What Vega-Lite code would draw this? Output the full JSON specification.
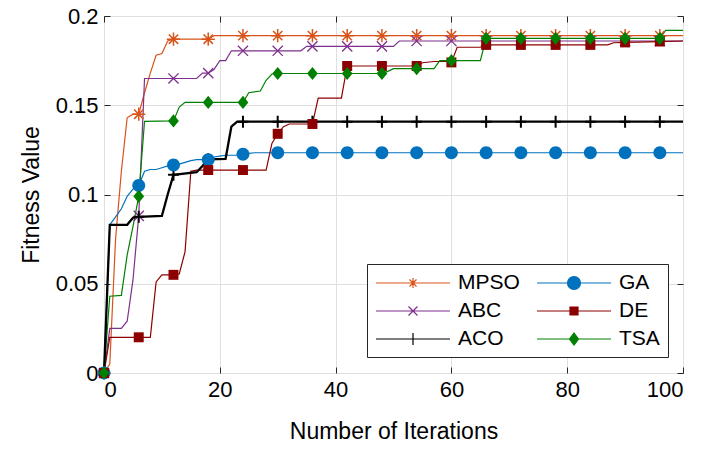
{
  "$schema": "https://vega.github.io/schema/vega-lite/v6.json",
  "width": 579,
  "height": 357,
  "autosize": {"type": "none"},
  "padding": {"left": 104, "top": 16, "right": 35, "bottom": 77},
  "background": "white",
  "config": {
    "font": "Liberation Sans",
    "view": {"stroke": "#262626", "strokeWidth": 1}
  },
  "data": {"values": [
    {"algo":"MPSO","iter":0,"value":0},{"algo":"MPSO","iter":1,"value":0.005},{"algo":"MPSO","iter":2,"value":0.075},{"algo":"MPSO","iter":3,"value":0.113},{"algo":"MPSO","iter":4,"value":0.143},{"algo":"MPSO","iter":5,"value":0.145},{"algo":"MPSO","iter":6,"value":0.145},{"algo":"MPSO","iter":7,"value":0.157},{"algo":"MPSO","iter":8,"value":0.168},{"algo":"MPSO","iter":9,"value":0.178},{"algo":"MPSO","iter":10,"value":0.179},{"algo":"MPSO","iter":11,"value":0.186},{"algo":"MPSO","iter":12,"value":0.187},{"algo":"MPSO","iter":18,"value":0.187},{"algo":"MPSO","iter":19,"value":0.189},{"algo":"MPSO","iter":24,"value":0.189},{"algo":"MPSO","iter":30,"value":0.189},{"algo":"MPSO","iter":36,"value":0.189},{"algo":"MPSO","iter":42,"value":0.189},{"algo":"MPSO","iter":48,"value":0.189},{"algo":"MPSO","iter":54,"value":0.189},{"algo":"MPSO","iter":60,"value":0.189},{"algo":"MPSO","iter":66,"value":0.189},{"algo":"MPSO","iter":72,"value":0.189},{"algo":"MPSO","iter":78,"value":0.189},{"algo":"MPSO","iter":84,"value":0.189},{"algo":"MPSO","iter":90,"value":0.189},{"algo":"MPSO","iter":96,"value":0.189},{"algo":"MPSO","iter":100,"value":0.189},
    {"algo":"ABC","iter":0,"value":0},{"algo":"ABC","iter":1,"value":0.025},{"algo":"ABC","iter":3,"value":0.025},{"algo":"ABC","iter":4,"value":0.029},{"algo":"ABC","iter":5,"value":0.052},{"algo":"ABC","iter":6,"value":0.088},{"algo":"ABC","iter":7,"value":0.165},{"algo":"ABC","iter":12,"value":0.165},{"algo":"ABC","iter":16,"value":0.165},{"algo":"ABC","iter":17,"value":0.168},{"algo":"ABC","iter":18,"value":0.168},{"algo":"ABC","iter":19,"value":0.17},{"algo":"ABC","iter":20,"value":0.175},{"algo":"ABC","iter":21,"value":0.175},{"algo":"ABC","iter":22,"value":0.1805},{"algo":"ABC","iter":24,"value":0.1805},{"algo":"ABC","iter":30,"value":0.1805},{"algo":"ABC","iter":34,"value":0.1805},{"algo":"ABC","iter":35,"value":0.183},{"algo":"ABC","iter":36,"value":0.183},{"algo":"ABC","iter":42,"value":0.183},{"algo":"ABC","iter":48,"value":0.183},{"algo":"ABC","iter":50,"value":0.183},{"algo":"ABC","iter":51,"value":0.186},{"algo":"ABC","iter":54,"value":0.186},{"algo":"ABC","iter":60,"value":0.186},{"algo":"ABC","iter":66,"value":0.186},{"algo":"ABC","iter":72,"value":0.186},{"algo":"ABC","iter":78,"value":0.186},{"algo":"ABC","iter":84,"value":0.186},{"algo":"ABC","iter":90,"value":0.186},{"algo":"ABC","iter":96,"value":0.186},{"algo":"ABC","iter":100,"value":0.186},
    {"algo":"GA","iter":0,"value":0},{"algo":"GA","iter":1,"value":0.083},{"algo":"GA","iter":2,"value":0.0875},{"algo":"GA","iter":3,"value":0.092},{"algo":"GA","iter":4,"value":0.099},{"algo":"GA","iter":5,"value":0.103},{"algo":"GA","iter":6,"value":0.105},{"algo":"GA","iter":7,"value":0.113},{"algo":"GA","iter":8,"value":0.114},{"algo":"GA","iter":9,"value":0.114},{"algo":"GA","iter":10,"value":0.115},{"algo":"GA","iter":11,"value":0.116},{"algo":"GA","iter":12,"value":0.1165},{"algo":"GA","iter":13,"value":0.117},{"algo":"GA","iter":14,"value":0.118},{"algo":"GA","iter":15,"value":0.119},{"algo":"GA","iter":16,"value":0.1195},{"algo":"GA","iter":18,"value":0.1195},{"algo":"GA","iter":19,"value":0.121},{"algo":"GA","iter":20,"value":0.1215},{"algo":"GA","iter":21,"value":0.122},{"algo":"GA","iter":23,"value":0.122},{"algo":"GA","iter":24,"value":0.1225},{"algo":"GA","iter":25,"value":0.123},{"algo":"GA","iter":26,"value":0.1234},{"algo":"GA","iter":30,"value":0.1234},{"algo":"GA","iter":36,"value":0.1234},{"algo":"GA","iter":42,"value":0.1234},{"algo":"GA","iter":48,"value":0.1234},{"algo":"GA","iter":54,"value":0.1234},{"algo":"GA","iter":60,"value":0.1234},{"algo":"GA","iter":66,"value":0.1234},{"algo":"GA","iter":72,"value":0.1234},{"algo":"GA","iter":78,"value":0.1234},{"algo":"GA","iter":84,"value":0.1234},{"algo":"GA","iter":90,"value":0.1234},{"algo":"GA","iter":96,"value":0.1234},{"algo":"GA","iter":100,"value":0.1234},
    {"algo":"ACO","iter":0,"value":0},{"algo":"ACO","iter":1,"value":0.083},{"algo":"ACO","iter":4,"value":0.083},{"algo":"ACO","iter":5,"value":0.087},{"algo":"ACO","iter":6,"value":0.0875},{"algo":"ACO","iter":10,"value":0.088},{"algo":"ACO","iter":11,"value":0.1},{"algo":"ACO","iter":12,"value":0.111},{"algo":"ACO","iter":16,"value":0.1125},{"algo":"ACO","iter":17,"value":0.116},{"algo":"ACO","iter":18,"value":0.1197},{"algo":"ACO","iter":21,"value":0.12},{"algo":"ACO","iter":22,"value":0.138},{"algo":"ACO","iter":23,"value":0.1408},{"algo":"ACO","iter":24,"value":0.1408},{"algo":"ACO","iter":30,"value":0.1408},{"algo":"ACO","iter":36,"value":0.1408},{"algo":"ACO","iter":42,"value":0.1408},{"algo":"ACO","iter":48,"value":0.1408},{"algo":"ACO","iter":54,"value":0.1408},{"algo":"ACO","iter":60,"value":0.1408},{"algo":"ACO","iter":66,"value":0.1408},{"algo":"ACO","iter":72,"value":0.1408},{"algo":"ACO","iter":78,"value":0.1408},{"algo":"ACO","iter":84,"value":0.1408},{"algo":"ACO","iter":90,"value":0.1408},{"algo":"ACO","iter":96,"value":0.1408},{"algo":"ACO","iter":100,"value":0.1408},
    {"algo":"DE","iter":0,"value":0},{"algo":"DE","iter":1,"value":0.02},{"algo":"DE","iter":6,"value":0.02},{"algo":"DE","iter":8,"value":0.02},{"algo":"DE","iter":9,"value":0.051},{"algo":"DE","iter":10,"value":0.055},{"algo":"DE","iter":12,"value":0.055},{"algo":"DE","iter":13,"value":0.0555},{"algo":"DE","iter":14,"value":0.068},{"algo":"DE","iter":15,"value":0.113},{"algo":"DE","iter":16,"value":0.1137},{"algo":"DE","iter":18,"value":0.1137},{"algo":"DE","iter":24,"value":0.1137},{"algo":"DE","iter":28,"value":0.1137},{"algo":"DE","iter":29,"value":0.1286},{"algo":"DE","iter":30,"value":0.134},{"algo":"DE","iter":31,"value":0.138},{"algo":"DE","iter":32,"value":0.1395},{"algo":"DE","iter":36,"value":0.1395},{"algo":"DE","iter":37,"value":0.154},{"algo":"DE","iter":41,"value":0.154},{"algo":"DE","iter":42,"value":0.172},{"algo":"DE","iter":48,"value":0.172},{"algo":"DE","iter":54,"value":0.172},{"algo":"DE","iter":55,"value":0.1738},{"algo":"DE","iter":57,"value":0.1745},{"algo":"DE","iter":59,"value":0.1745},{"algo":"DE","iter":60,"value":0.174},{"algo":"DE","iter":61,"value":0.1825},{"algo":"DE","iter":65,"value":0.1825},{"algo":"DE","iter":66,"value":0.1838},{"algo":"DE","iter":72,"value":0.1838},{"algo":"DE","iter":78,"value":0.1838},{"algo":"DE","iter":84,"value":0.1838},{"algo":"DE","iter":87,"value":0.1838},{"algo":"DE","iter":88,"value":0.185},{"algo":"DE","iter":90,"value":0.1852},{"algo":"DE","iter":96,"value":0.1857},{"algo":"DE","iter":100,"value":0.186},
    {"algo":"TSA","iter":0,"value":0},{"algo":"TSA","iter":1,"value":0.043},{"algo":"TSA","iter":3,"value":0.0435},{"algo":"TSA","iter":4,"value":0.066},{"algo":"TSA","iter":5,"value":0.082},{"algo":"TSA","iter":6,"value":0.099},{"algo":"TSA","iter":7,"value":0.141},{"algo":"TSA","iter":12,"value":0.1412},{"algo":"TSA","iter":13,"value":0.149},{"algo":"TSA","iter":14,"value":0.1516},{"algo":"TSA","iter":18,"value":0.1516},{"algo":"TSA","iter":24,"value":0.1516},{"algo":"TSA","iter":25,"value":0.157},{"algo":"TSA","iter":27,"value":0.158},{"algo":"TSA","iter":28,"value":0.164},{"algo":"TSA","iter":29,"value":0.1675},{"algo":"TSA","iter":30,"value":0.1678},{"algo":"TSA","iter":36,"value":0.1678},{"algo":"TSA","iter":42,"value":0.1678},{"algo":"TSA","iter":48,"value":0.1678},{"algo":"TSA","iter":49,"value":0.169},{"algo":"TSA","iter":50,"value":0.1705},{"algo":"TSA","iter":54,"value":0.1705},{"algo":"TSA","iter":57,"value":0.1705},{"algo":"TSA","iter":58,"value":0.175},{"algo":"TSA","iter":60,"value":0.175},{"algo":"TSA","iter":65,"value":0.175},{"algo":"TSA","iter":66,"value":0.1875},{"algo":"TSA","iter":72,"value":0.1875},{"algo":"TSA","iter":78,"value":0.1875},{"algo":"TSA","iter":84,"value":0.1875},{"algo":"TSA","iter":90,"value":0.1875},{"algo":"TSA","iter":96,"value":0.1875},{"algo":"TSA","iter":97,"value":0.192},{"algo":"TSA","iter":100,"value":0.192}
  ]},
  "encoding": {
    "color": {
      "field": "algo",
      "type": "nominal",
      "scale": {
        "domain": ["MPSO", "ABC", "ACO", "GA", "DE", "TSA"],
        "range": ["#D95319", "#7E2F8E", "#000000", "#0072BD", "#8B0000", "#008000"]
      },
      "legend": {
        "title": null,
        "orient": "none",
        "legendX": 263,
        "legendY": 248,
        "columns": 2,
        "fillColor": "white",
        "strokeColor": "#262626",
        "padding": 8,
        "rowPadding": 7,
        "columnPadding": 14,
        "labelOffset": 61,
        "labelFont": "Liberation Sans",
        "labelFontSize": 21,
        "labelColor": "#000000",
        "symbolSize": 400,
        "symbolStrokeWidth": 1.2,
        "symbolType": "M-1,0L6.4,0",
        "encoding": {
          "symbols": {
            "shape": {"value": {"expr": "{'MPSO':'M-1,0L6.4,0M2.2,0L3.2,0M2.7,-0.5L2.7,0.5M2.35,-0.35L3.05,0.35M2.35,0.35L3.05,-0.35','ABC':'M-1,0L6.4,0M2.25,-0.45L3.15,0.45M2.25,0.45L3.15,-0.45','ACO':'M-1,0L6.4,0M2.7,-0.6L2.7,0.6','GA':'M-1,0L6.4,0M3.35,0A0.65,0.65,0,1,1,2.05,0A0.65,0.65,0,1,1,3.35,0Z','DE':'M-1,0L6.4,0M2.3,-0.4L3.1,-0.4L3.1,0.4L2.3,0.4Z','TSA':'M-1,0L6.4,0M2.7,-0.6L3.15,0L2.7,0.6L2.25,0Z'}[datum.value]"}},
            "fill": {"value": {"expr": "{'GA':'#0072BD','DE':'#8B0000','TSA':'#008000'}[datum.value] || 'transparent'"}},
            "stroke": {"value": {"expr": "{'MPSO':'#D95319','GA':'#0072BD','ABC':'#7E2F8E','DE':'#8B0000','ACO':'#000000','TSA':'#008000'}[datum.value]"}},
            "opacity": {"value": 1}
          }
        }
      }
    }
  },
  "layer": [
    {
      "transform": [{"filter": {"not": {"field": "algo", "equal": "ACO"}}}],
      "mark": {"type": "line", "strokeWidth": 1.2},
      "encoding": {
        "x": {
          "field": "iter", "type": "quantitative",
          "scale": {"domain": [0, 100], "nice": false},
          "axis": {
            "orient": "bottom", "values": [0, 20, 40, 60, 80, 100],
            "grid": true, "gridColor": "#dfdfdf", "gridWidth": 1,
            "domain": false, "tickSize": -6, "tickColor": "#262626", "tickWidth": 1,
            "labelFont": "Liberation Sans", "labelFontSize": 22, "labelColor": "#000000", "labelPadding": 12,
            "title": "Number of Iterations", "titleFont": "Liberation Sans", "titleFontSize": 23,
            "titleFontWeight": "normal", "titleColor": "#000000", "titlePadding": 20
          }
        },
        "y": {
          "field": "value", "type": "quantitative",
          "scale": {"domain": [0, 0.2], "nice": false},
          "axis": {
            "orient": "left", "values": [0, 0.05, 0.1, 0.15, 0.2], "format": ".2~f",
            "grid": true, "gridColor": "#dfdfdf", "gridWidth": 1,
            "domain": false, "tickSize": -6, "tickColor": "#262626", "tickWidth": 1,
            "labelFont": "Liberation Sans", "labelFontSize": 22, "labelColor": "#000000", "labelPadding": 12,
            "title": "Fitness Value", "titleFont": "Liberation Sans", "titleFontSize": 23,
            "titleFontWeight": "normal", "titleColor": "#000000", "titlePadding": 12
          }
        }
      }
    },
    {
      "transform": [{"filter": {"field": "algo", "equal": "ACO"}}],
      "mark": {"type": "line", "strokeWidth": 2.3},
      "encoding": {
        "x": {"field": "iter", "type": "quantitative", "axis": null},
        "y": {"field": "value", "type": "quantitative", "axis": null}
      }
    },
    {
      "transform": [
        {"filter": {"field": "algo", "equal": "MPSO"}},
        {"filter": {"field": "iter", "oneOf": [0, 6, 12, 18, 24, 30, 36, 42, 48, 54, 60, 66, 72, 78, 84, 90, 96]}}
      ],
      "mark": {"type": "point", "filled": false, "strokeWidth": 1.5, "size": 144, "opacity": 1, "shape": "M-1.1,0L1.1,0M0,-1.1L0,1.1M-0.78,-0.78L0.78,0.78M-0.78,0.78L0.78,-0.78"},
      "encoding": {
        "x": {
          "field": "iter", "type": "quantitative",
          "axis": {"orient": "top", "values": [0, 20, 40, 60, 80, 100], "labels": false, "grid": false, "domain": false, "tickSize": -6, "tickColor": "#262626", "title": null}
        },
        "y": {
          "field": "value", "type": "quantitative",
          "axis": {"orient": "right", "values": [0, 0.05, 0.1, 0.15, 0.2], "labels": false, "grid": false, "domain": false, "tickSize": -6, "tickColor": "#262626", "title": null}
        }
      }
    },
    {
      "transform": [
        {"filter": {"field": "algo", "equal": "ABC"}},
        {"filter": {"field": "iter", "oneOf": [0, 6, 12, 18, 24, 30, 36, 42, 48, 54, 60, 66, 72, 78, 84, 90, 96]}}
      ],
      "mark": {"type": "point", "filled": false, "strokeWidth": 1.3, "size": 144, "opacity": 1, "shape": "M-0.85,-0.85L0.85,0.85M-0.85,0.85L0.85,-0.85"},
      "encoding": {
        "x": {"field": "iter", "type": "quantitative", "axis": null},
        "y": {"field": "value", "type": "quantitative", "axis": null}
      }
    },
    {
      "transform": [
        {"filter": {"field": "algo", "equal": "ACO"}},
        {"filter": {"field": "iter", "oneOf": [0, 6, 12, 18, 24, 30, 36, 42, 48, 54, 60, 66, 72, 78, 84, 90, 96]}}
      ],
      "mark": {"type": "point", "filled": false, "strokeWidth": 2, "size": 144, "opacity": 1, "shape": "M-0.9,0L0.9,0M0,-1L0,1"},
      "encoding": {
        "x": {"field": "iter", "type": "quantitative", "axis": null},
        "y": {"field": "value", "type": "quantitative", "axis": null}
      }
    },
    {
      "transform": [
        {"filter": {"field": "algo", "equal": "GA"}},
        {"filter": {"field": "iter", "oneOf": [0, 6, 12, 18, 24, 30, 36, 42, 48, 54, 60, 66, 72, 78, 84, 90, 96]}}
      ],
      "mark": {"type": "point", "filled": true, "size": 144, "opacity": 1, "shape": "M1.08,0A1.08,1.08,0,1,1,-1.08,0A1.08,1.08,0,1,1,1.08,0Z"},
      "encoding": {
        "x": {"field": "iter", "type": "quantitative", "axis": null},
        "y": {"field": "value", "type": "quantitative", "axis": null}
      }
    },
    {
      "transform": [
        {"filter": {"field": "algo", "equal": "DE"}},
        {"filter": {"field": "iter", "oneOf": [0, 6, 12, 18, 24, 30, 36, 42, 48, 54, 60, 66, 72, 78, 84, 90, 96]}}
      ],
      "mark": {"type": "point", "filled": true, "size": 144, "opacity": 1, "shape": "M-0.83,-0.83L0.83,-0.83L0.83,0.83L-0.83,0.83Z"},
      "encoding": {
        "x": {"field": "iter", "type": "quantitative", "axis": null},
        "y": {"field": "value", "type": "quantitative", "axis": null}
      }
    },
    {
      "transform": [
        {"filter": {"field": "algo", "equal": "TSA"}},
        {"filter": {"field": "iter", "oneOf": [0, 6, 12, 18, 24, 30, 36, 42, 48, 54, 60, 66, 72, 78, 84, 90, 96]}}
      ],
      "mark": {"type": "point", "filled": true, "size": 144, "opacity": 1, "shape": "M0,-1.1L0.9,0L0,1.1L-0.9,0Z"},
      "encoding": {
        "x": {"field": "iter", "type": "quantitative", "axis": null},
        "y": {"field": "value", "type": "quantitative", "axis": null}
      }
    }
  ],
  "resolve": {"axis": {"x": "independent", "y": "independent"}}
}
